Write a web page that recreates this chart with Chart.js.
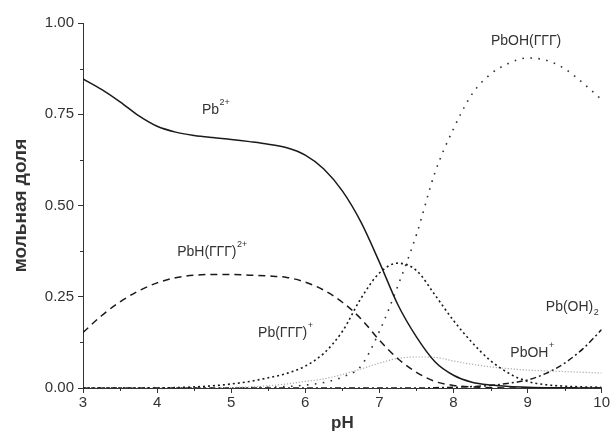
<!DOCTYPE html>
<html>
<head>
<meta charset="utf-8">
<script src="https://cdn.jsdelivr.net/npm/chart.js@4.4.0/dist/chart.umd.min.js"></script>
<style>
  html, body { margin: 0; padding: 0; background: #fff; }
  #wrap { width: 611px; height: 439px; }
</style>
</head>
<body>
<div id="wrap"><canvas id="c" width="611" height="439"></canvas></div>
<script>
// pH grid, step 0.25
var ph = [3, 3.25, 3.5, 3.75, 4, 4.25, 4.5, 4.75, 5, 5.25, 5.5, 5.75, 6, 6.25, 6.5, 6.75,
          7, 7.25, 7.5, 7.75, 8, 8.25, 8.5, 8.75, 9, 9.25, 9.5, 9.75, 10];

// mole fractions
var pb2 = [0.847, 0.818, 0.784, 0.746, 0.717, 0.701, 0.692, 0.686, 0.681, 0.675, 0.668, 0.658, 0.638, 0.6, 0.54, 0.455,
           0.345, 0.228, 0.14, 0.072, 0.035, 0.016, 0.008, 0.004, 0.002, 0.001, 0.001, 0, 0];
var pbhL = [0.152, 0.198, 0.236, 0.266, 0.288, 0.302, 0.309, 0.311, 0.311, 0.309, 0.307, 0.303, 0.29, 0.268, 0.235, 0.19,
            0.131, 0.08, 0.043, 0.018, 0.007, 0.003, 0.001, 0, 0, 0, 0, 0, 0];
var pbL = [0, 0, 0, 0, 0, 0.001, 0.003, 0.006, 0.011, 0.018, 0.028, 0.04, 0.06, 0.095, 0.155, 0.245,
           0.315, 0.342, 0.322, 0.255, 0.185, 0.125, 0.075, 0.04, 0.018, 0.009, 0.005, 0.003, 0.002];
var pbohL = [0, 0, 0, 0, 0, 0, 0, 0, 0, 0.001, 0.002, 0.004, 0.008, 0.015, 0.03, 0.06,
             0.155, 0.28, 0.42, 0.59, 0.71, 0.805, 0.86, 0.89, 0.904, 0.898, 0.875, 0.835, 0.79];
var pboh = [0, 0, 0, 0, 0, 0, 0, 0, 0.001, 0.003, 0.006, 0.011, 0.018, 0.025, 0.037, 0.052,
            0.068, 0.081, 0.085, 0.084, 0.074, 0.065, 0.058, 0.053, 0.049, 0.047, 0.045, 0.043, 0.041];
var pboh2 = [0, 0, 0, 0, 0, 0, 0, 0, 0, 0, 0, 0, 0, 0, 0, 0,
             0, 0, 0, 0.001, 0.002, 0.004, 0.007, 0.013, 0.022, 0.04, 0.068, 0.108, 0.16];

// curve labels: text, superscript/subscript, centre in data units
var lblText = ["Pb", "PbOH(ГГГ)", "PbH(ГГГ)", "Pb(ГГГ)", "Pb(OH)", "PbOH"];
var lblSup  = ["2+", "", "2+", "+", "", "+"];
var lblSub  = ["", "", "", "", "2", ""];
var lblX    = [4.79, 8.98, 4.74, 5.73, 9.6, 9.06];
var lblY    = [0.762, 0.951, 0.373, 0.151, 0.222, 0.096];

function pts(arr) {
  return ph.map(function(x, i) { return {x: x, y: arr[i]}; });
}

function line(label, arr, color, width, dash) {
  return {
    label: label,
    data: pts(arr),
    borderColor: color,
    borderWidth: width,
    borderDash: dash,
    pointRadius: 0,
    fill: false,
    cubicInterpolationMode: 'monotone'
  };
}

var FONT = "'Liberation Sans', Arial, sans-serif";
var INK = '#333';

var labelsPlugin = {
  id: 'curveLabels',
  afterDatasetsDraw: function(chart) {
    var ctx = chart.ctx;
    var xs = chart.scales.x, ys = chart.scales.y;
    ctx.save();
    ctx.fillStyle = INK;
    ctx.textBaseline = 'middle';
    for (var i = 0; i < lblText.length; i++) {
      ctx.font = '14px ' + FONT;
      var w = ctx.measureText(lblText[i]).width;
      ctx.font = '9px ' + FONT;
      var extra = lblSup[i] || lblSub[i];
      var w2 = extra ? ctx.measureText(extra).width : 0;
      var cx = xs.getPixelForValue(lblX[i]);
      var cy = ys.getPixelForValue(lblY[i]);
      var x0 = cx - (w + w2) / 2;
      ctx.font = '14px ' + FONT;
      ctx.textAlign = 'left';
      ctx.fillText(lblText[i], x0, cy);
      ctx.font = '9px ' + FONT;
      if (lblSup[i]) ctx.fillText(lblSup[i], x0 + w + 0.5, cy - 7);
      if (lblSub[i]) ctx.fillText(lblSub[i], x0 + w + 0.5, cy + 6);
    }
    ctx.restore();
  }
};

// minor ticks halfway between the labelled ones
var minorPlugin = {
  id: 'minorTicks',
  afterDraw: function(chart) {
    var ctx = chart.ctx;
    var xs = chart.scales.x, ys = chart.scales.y;
    ctx.save();
    ctx.strokeStyle = INK;
    ctx.lineWidth = 1;
    ctx.beginPath();
    for (var v = 3.5; v < 10; v += 1) {
      var px = Math.round(xs.getPixelForValue(v)) + 0.5;
      ctx.moveTo(px, xs.top);
      ctx.lineTo(px, xs.top + 3);
    }
    for (var u = 0.125; u < 1; u += 0.25) {
      var py = Math.round(ys.getPixelForValue(u)) + 0.5;
      ctx.moveTo(ys.right, py);
      ctx.lineTo(ys.right - 3, py);
    }
    ctx.stroke();
    ctx.restore();
  }
};

window.onload = function() {
  new Chart(document.getElementById('c'), {
    type: 'line',
    data: {
      datasets: [
        line('Pb2+', pb2, '#1a1a1a', 1.5, []),
        line('PbH(ГГГ)2+', pbhL, '#1a1a1a', 1.5, [7, 5]),
        line('Pb(ГГГ)+', pbL, '#1a1a1a', 1.6, [2, 3]),
        line('PbOH(ГГГ)', pbohL, '#333', 1.6, [1.6, 6.4]),
        line('PbOH+', pboh, '#aaa', 1.2, [1.2, 1.8]),
        line('Pb(OH)2', pboh2, '#1a1a1a', 1.5, [6, 3, 2, 3])
      ]
    },
    options: {
      responsive: false,
      animation: false,
      layout: { padding: { top: 23, right: 8, left: 0, bottom: 0 } },
      plugins: { legend: { display: false }, tooltip: { enabled: false } },
      scales: {
        x: {
          type: 'linear',
          min: 3, max: 10,
          afterFit: function(s) { s.height = 51; },
          ticks: { stepSize: 1, color: INK, font: { family: FONT, size: 15 }, padding: 1, maxRotation: 0 },
          grid: { drawOnChartArea: false, drawTicks: true, tickLength: 5, color: INK },
          border: { display: true, color: INK, width: 1 },
          title: { display: true, text: 'pH', color: INK, font: { family: FONT, size: 17, weight: 'bold' }, padding: { top: 0, bottom: 5 } }
        },
        y: {
          min: 0, max: 1,
          afterFit: function(s) { s.width = 83; },
          ticks: { stepSize: 0.25, color: INK, font: { family: FONT, size: 15 }, padding: 4,
                   callback: function(v) { return v.toFixed(2); } },
          grid: { drawOnChartArea: false, drawTicks: true, tickLength: 5, color: INK },
          border: { display: true, color: INK, width: 1 },
          title: { display: true, text: 'мольная доля', color: INK, font: { family: FONT, size: 19, weight: 'bold' }, padding: { top: 9, bottom: 0 } }
        }
      }
    },
    plugins: [labelsPlugin, minorPlugin]
  });
};
</script>
</body>
</html>
